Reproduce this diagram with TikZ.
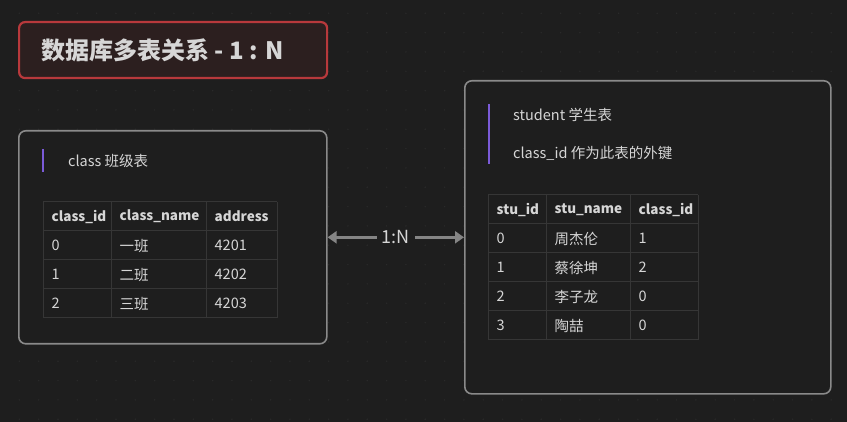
\documentclass[tikz,border=0pt]{standalone}
\usepackage{fontspec}
\setmainfont{Noto Sans CJK SC}
\usetikzlibrary{arrows.meta,positioning}
\definecolor{bgcol}{HTML}{1E1E1E}
\definecolor{dotcol}{HTML}{2A2A2A}
\definecolor{panelgray}{HTML}{8A8A8A}
\definecolor{titlered}{HTML}{B8393C}
\definecolor{titlefill}{HTML}{2C1F1F}
\definecolor{accentpurple}{HTML}{7B5BD8}
\definecolor{gridcol}{HTML}{363636}
\definecolor{txtcol}{HTML}{D6D6D6}
\definecolor{linkgray}{HTML}{858585}
\tikzset{
    titlebox/.style={draw=titlered,line width=2.2pt,rounded corners=6pt,fill=titlefill},
    titletext/.style={text=txtcol,inner sep=0pt,font=\fontsize{24}{28}\selectfont\bfseries},
    panel/.style={draw=panelgray,line width=1.6pt,rounded corners=7pt,fill=bgcol},
    accent/.style={draw=accentpurple,line width=2pt},
    notetext/.style={text=txtcol,anchor=west,inner sep=0pt,font=\fontsize{14.5}{18}\selectfont},
    celltext/.style={text=txtcol,anchor=west,inner sep=0pt,font=\fontsize{14.5}{18}\selectfont},
    headtext/.style={celltext,font=\fontsize{13.5}{16}\selectfont\bfseries},
    gridline/.style={draw=gridcol,line width=1pt},
    link/.style={draw=linkgray,line width=3pt,{Triangle[length=9pt,width=12pt]}-{Triangle[length=9pt,width=12pt]}},
    linklabel/.style={text=txtcol,fill=bgcol,inner xsep=5pt,font=\fontsize{18}{22}\selectfont}
}
\begin{document}
\begin{tikzpicture}[x=1pt,y=-1pt]
  % background with dot grid
  \fill[bgcol] (0,0) rectangle (847,422);
  \foreach \i in {1,...,43}
    \foreach \j in {0,...,21}
      \fill[dotcol] (19.33*\i,13.3+19.33*\j) circle (0.8pt);

  % title
  \node[titlebox,minimum width=308pt,minimum height=56pt,anchor=north west] (title) at (18,21) {};
  \node[titletext,anchor=west] (titlelab) at (41,50) {数据库多表关系 - 1 : N};

  % class panel
  \node[panel,minimum width=308pt,minimum height=213pt,anchor=north west] (classbox) at (18,130) {};
  \draw[accent] (43,149) -- (43,172);
  \node[notetext] (classnote) at (68,161) {class 班级表};
  \foreach \y in {202,231,260,289,318}
    \draw[gridline] (43,\y) -- (277,\y);
  \foreach \x in {43,111,206,277}
    \draw[gridline] (\x,202) -- (\x,318);
  \foreach \x/\t [count=\k] in {43/class\_id,111/class\_name,206/address}
    \node[headtext] (cls-0-\k) at (\x+8.5,216.5) {\t};
  \foreach \r/\a/\b/\c in {1/0/一班/4201,2/1/二班/4202,3/2/三班/4203}{
    \node[celltext] (cls-\r-1) at (51.5,216.5+29*\r) {\a};
    \node[celltext] (cls-\r-2) at (119.5,216.5+29*\r) {\b};
    \node[celltext] (cls-\r-3) at (214.5,216.5+29*\r) {\c};
  }

  % student panel
  \node[panel,minimum width=366pt,minimum height=313pt,anchor=north west] (stubox) at (464,80) {};
  \draw[accent] (489,104) -- (489,164);
  \node[notetext] (stunote) at (513,115) {student 学生表};
  \node[notetext] (keynote) at (513,153) {class\_id 作为此表的外键};
  \foreach \y in {195,224,253,282,311,340}
    \draw[gridline] (488,\y) -- (698,\y);
  \foreach \x in {488,546,630,698}
    \draw[gridline] (\x,195) -- (\x,340);
  \foreach \x/\t [count=\k] in {488/stu\_id,546/stu\_name,630/class\_id}
    \node[headtext] (stu-0-\k) at (\x+8.5,209.5) {\t};
  \foreach \r/\a/\b/\c in {1/0/周杰伦/1,2/1/蔡徐坤/2,3/2/李子龙/0,4/3/陶喆/0}{
    \node[celltext] (stu-\r-1) at (496.5,209.5+29*\r) {\a};
    \node[celltext] (stu-\r-2) at (554.5,209.5+29*\r) {\b};
    \node[celltext] (stu-\r-3) at (638.5,209.5+29*\r) {\c};
  }

  % relation
  \draw[link] (classbox.east) -- node[linklabel] (rel) {1:N} (stubox.west);
\end{tikzpicture}
\end{document}
